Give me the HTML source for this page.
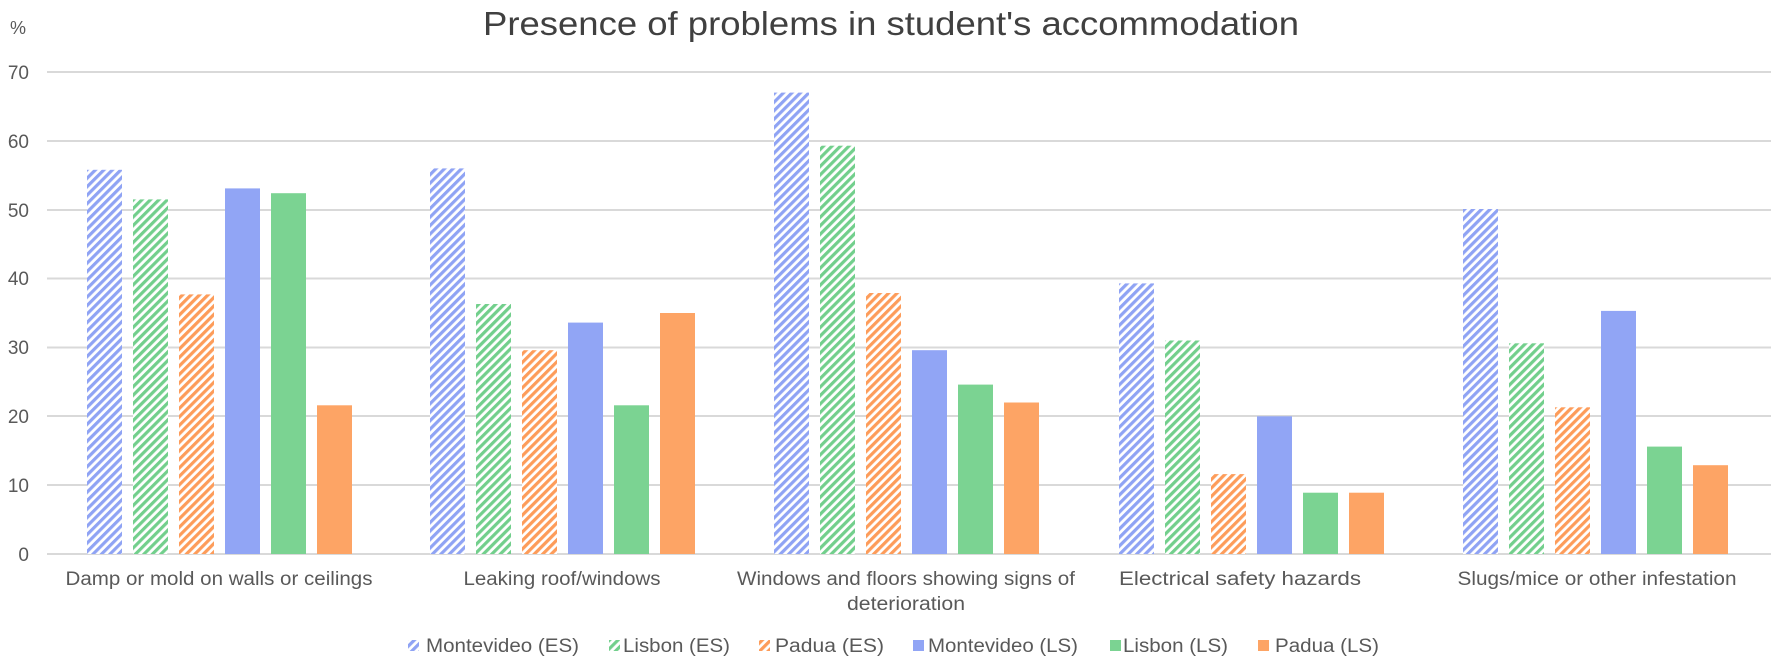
<!DOCTYPE html>
<html><head><meta charset="utf-8"><style>
html,body{margin:0;padding:0;background:#fff;}
svg{display:block;font-family:"Liberation Sans",Arial,sans-serif;}
</style></head><body>
<svg width="1772" height="662" viewBox="0 0 1772 662" xmlns="http://www.w3.org/2000/svg">
<defs>
<pattern id="hb" patternUnits="userSpaceOnUse" width="6" height="6" patternTransform="rotate(45)"><rect width="6" height="6" fill="#fff"/><rect width="3.2" height="6" fill="#8fa3f4"/></pattern>
<pattern id="hg" patternUnits="userSpaceOnUse" width="6" height="6" patternTransform="rotate(45)"><rect width="6" height="6" fill="#fff"/><rect width="3.2" height="6" fill="#72cf8c"/></pattern>
<pattern id="ho" patternUnits="userSpaceOnUse" width="6" height="6" patternTransform="rotate(45)"><rect width="6" height="6" fill="#fff"/><rect width="3.2" height="6" fill="#fd9c5a"/></pattern>
</defs>
<rect width="1772" height="662" fill="#fff"/>
<text x="891" y="35" font-size="33" fill="#404040" text-anchor="middle" textLength="816" lengthAdjust="spacingAndGlyphs">Presence of problems in student's accommodation</text>
<text x="10" y="34" font-size="18" fill="#595959">%</text>
<g stroke="#d9d9d9" stroke-width="2">
<line x1="47" x2="1771" y1="72" y2="72"/>
<line x1="47" x2="1771" y1="141" y2="141"/>
<line x1="47" x2="1771" y1="210" y2="210"/>
<line x1="47" x2="1771" y1="278.5" y2="278.5"/>
<line x1="47" x2="1771" y1="347.5" y2="347.5"/>
<line x1="47" x2="1771" y1="416" y2="416"/>
<line x1="47" x2="1771" y1="485" y2="485"/>
<line x1="47" x2="1771" y1="554" y2="554"/>
</g>
<g font-size="19" fill="#595959" text-anchor="end">
<text x="29" y="79">70</text><text x="29" y="148">60</text><text x="29" y="217">50</text>
<text x="29" y="285">40</text><text x="29" y="354">30</text><text x="29" y="423">20</text>
<text x="29" y="492">10</text><text x="29" y="561">0</text>
</g>
<g font-size="19" fill="#595959" text-anchor="middle">
<text x="219" y="585" textLength="307" lengthAdjust="spacingAndGlyphs">Damp or mold on walls or ceilings</text>
<text x="562" y="585" textLength="197" lengthAdjust="spacingAndGlyphs">Leaking roof/windows</text>
<text x="906" y="585" textLength="338" lengthAdjust="spacingAndGlyphs">Windows and floors showing signs of</text>
<text x="906" y="610" textLength="118" lengthAdjust="spacingAndGlyphs">deterioration</text>
<text x="1240" y="585" textLength="242" lengthAdjust="spacingAndGlyphs">Electrical safety hazards</text>
<text x="1597" y="585" textLength="279" lengthAdjust="spacingAndGlyphs">Slugs/mice or other infestation</text>
</g>
<g font-size="19" fill="#595959">
<rect x="408" y="640" width="11" height="11" fill="url(#hb)"/><text x="426" y="652" textLength="153" lengthAdjust="spacingAndGlyphs">Montevideo (ES)</text>
<rect x="609" y="640" width="11" height="11" fill="url(#hg)"/><text x="623" y="652" textLength="107" lengthAdjust="spacingAndGlyphs">Lisbon (ES)</text>
<rect x="759" y="640" width="11" height="11" fill="url(#ho)"/><text x="775" y="652" textLength="109" lengthAdjust="spacingAndGlyphs">Padua (ES)</text>
<rect x="913" y="640" width="11" height="11" fill="#91a5f5"/><text x="928" y="652" textLength="150" lengthAdjust="spacingAndGlyphs">Montevideo (LS)</text>
<rect x="1110" y="640" width="11" height="11" fill="#7bd392"/><text x="1123" y="652" textLength="105" lengthAdjust="spacingAndGlyphs">Lisbon (LS)</text>
<rect x="1258" y="640" width="11" height="11" fill="#fda465"/><text x="1275" y="652" textLength="104" lengthAdjust="spacingAndGlyphs">Padua (LS)</text>
</g>
<g>
<rect x="87" y="169.8" width="35" height="384.2" fill="url(#hb)"/>
<rect x="133" y="199.4" width="35" height="354.6" fill="url(#hg)"/>
<rect x="179" y="294.4" width="35" height="259.6" fill="url(#ho)"/>
<rect x="225" y="188.4" width="35" height="365.6" fill="#91a5f5"/>
<rect x="271" y="193.2" width="35" height="360.8" fill="#7bd392"/>
<rect x="317" y="405.3" width="35" height="148.7" fill="#fda465"/>

<rect x="430" y="168.4" width="35" height="385.6" fill="url(#hb)"/>
<rect x="476" y="304.0" width="35" height="250.0" fill="url(#hg)"/>
<rect x="522" y="350.2" width="35" height="203.8" fill="url(#ho)"/>
<rect x="568" y="322.6" width="35" height="231.4" fill="#91a5f5"/>
<rect x="614" y="405.3" width="35" height="148.7" fill="#7bd392"/>
<rect x="660" y="313.0" width="35" height="241.0" fill="#fda465"/>

<rect x="774" y="92.6" width="35" height="461.4" fill="url(#hb)"/>
<rect x="820" y="145.7" width="35" height="408.3" fill="url(#hg)"/>
<rect x="866" y="293.0" width="35" height="261.0" fill="url(#ho)"/>
<rect x="912" y="350.2" width="35" height="203.8" fill="#91a5f5"/>
<rect x="958" y="384.6" width="35" height="169.4" fill="#7bd392"/>
<rect x="1004" y="402.5" width="35" height="151.5" fill="#fda465"/>

<rect x="1119" y="283.4" width="35" height="270.6" fill="url(#hb)"/>
<rect x="1165" y="340.5" width="35" height="213.5" fill="url(#hg)"/>
<rect x="1211" y="474.1" width="35" height="79.9" fill="url(#ho)"/>
<rect x="1257" y="416.3" width="35" height="137.7" fill="#91a5f5"/>
<rect x="1303" y="492.7" width="35" height="61.3" fill="#7bd392"/>
<rect x="1349" y="492.7" width="35" height="61.3" fill="#fda465"/>

<rect x="1463" y="209.0" width="35" height="345.0" fill="url(#hb)"/>
<rect x="1509" y="343.3" width="35" height="210.7" fill="url(#hg)"/>
<rect x="1555" y="407.3" width="35" height="146.7" fill="url(#ho)"/>
<rect x="1601" y="310.9" width="35" height="243.1" fill="#91a5f5"/>
<rect x="1647" y="446.6" width="35" height="107.4" fill="#7bd392"/>
<rect x="1693" y="465.2" width="35" height="88.8" fill="#fda465"/>
</g>
</svg>
</body></html>
